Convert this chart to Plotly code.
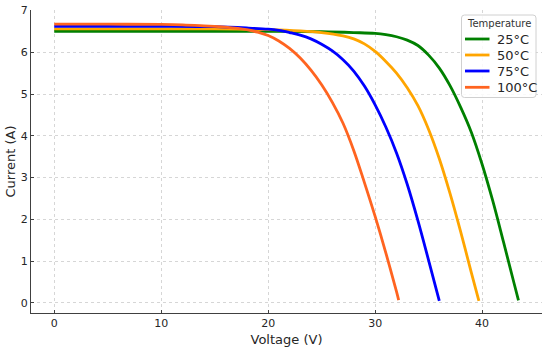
import plotly.graph_objects as go

# Temperature series
temperatures = ["25°C", "50°C", "75°C", "100°C"]
colors = ["#008000", "#FFA500", "#0000FF", "#FF6420"]

v_25 = [0, 5, 10, 15, 20, 25, 28, 30, 31, 32, 33, 34, 35, 36, 37, 38, 39, 40, 41, 42, 43, 43.4]
i_25 = [6.5, 6.5, 6.5, 6.5, 6.5, 6.49, 6.47, 6.45, 6.42, 6.37, 6.29, 6.16, 5.93, 5.62, 5.2, 4.68, 4.08, 3.32, 2.44, 1.46, 0.46, 0.06]

v_50 = [0, 5, 10, 15, 20, 23, 25, 27, 28, 29, 30, 31, 32, 33, 34, 35, 36, 37, 38, 39, 39.7]
i_50 = [6.56, 6.56, 6.56, 6.56, 6.54, 6.51, 6.47, 6.39, 6.32, 6.2, 6.02, 5.78, 5.5, 5.15, 4.72, 4.15, 3.45, 2.62, 1.7, 0.72, 0.05]

v_75 = [0, 5, 10, 15, 18, 20, 21, 22, 23, 24, 25, 26, 27, 28, 29, 30, 31, 32, 33, 34, 35, 36]
i_75 = [6.62, 6.62, 6.62, 6.61, 6.58, 6.55, 6.52, 6.47, 6.41, 6.32, 6.19, 6.03, 5.82, 5.55, 5.19, 4.74, 4.21, 3.59, 2.84, 1.97, 1.02, 0.05]

v_100 = [0, 5, 10, 12, 14, 16, 18, 19, 20, 21, 22, 23, 24, 25, 26, 27, 28, 29, 30, 31, 32, 32.2]
i_100 = [6.67, 6.67, 6.665, 6.655, 6.63, 6.6, 6.54, 6.48, 6.4, 6.27, 6.09, 5.86, 5.57, 5.22, 4.8, 4.3, 3.65, 2.88, 2.07, 1.2, 0.27, 0.07]

x_ticks = [0, 10, 20, 30, 40]
y_ticks = [0, 1, 2, 3, 4, 5, 6, 7]
legend_title = "Temperature"

voltages = [v_25, v_50, v_75, v_100]
currents = [i_25, i_50, i_75, i_100]

FONT = "DejaVu Sans"
TXT = "#262626"

W, H = 550, 347
ML, MR, MT, MB = 31, 8, 10, 34
PW, PH = W - ML - MR, H - MT - MB


def px(x):
    return (x - ML) / PW


def py(y):
    return (H - MB - y) / PH


fig = go.Figure()
for name, col, vx, iy in zip(temperatures, colors, voltages, currents):
    fig.add_trace(go.Scatter(
        x=vx, y=iy, mode="lines", name=name, showlegend=False,
        line=dict(color=col, width=2.8, shape="spline", smoothing=1.0),
    ))

axis_common = dict(
    showline=True, linecolor="#404040", linewidth=1.3, mirror=False,
    ticks="inside", ticklen=3, tickcolor="#404040", tickwidth=1,
    ticklabelposition="outside",
    showgrid=True, gridcolor="#d6d6d6", griddash="dot", gridwidth=1,
    zeroline=False, tickfont=dict(family=FONT, size=11, color=TXT),
)

fig.update_xaxes(
    range=[-2.17, 45.6], tickvals=x_ticks,
    title=dict(text="Voltage (V)", font=dict(family=FONT, size=13, color=TXT), standoff=6),
    **axis_common,
)
fig.update_yaxes(
    range=[-0.24, 7.01], tickvals=y_ticks,
    **axis_common,
)

fig.add_annotation(
    text="Current (A)", textangle=-90, showarrow=False,
    xref="paper", yref="paper", x=px(10), y=0.5,
    xanchor="center", yanchor="middle",
    font=dict(family=FONT, size=13, color=TXT),
)

# Legend box (drawn as in the reference, upper right inside the axes)
bx0, bx1, by0, by1, r = 461.5, 536.0, 15.0, 97.5, 3.0
path = (
    f"M {px(bx0 + r)},{py(by0)} L {px(bx1 - r)},{py(by0)} "
    f"Q {px(bx1)},{py(by0)} {px(bx1)},{py(by0 + r)} "
    f"L {px(bx1)},{py(by1 - r)} Q {px(bx1)},{py(by1)} {px(bx1 - r)},{py(by1)} "
    f"L {px(bx0 + r)},{py(by1)} Q {px(bx0)},{py(by1)} {px(bx0)},{py(by1 - r)} "
    f"L {px(bx0)},{py(by0 + r)} Q {px(bx0)},{py(by0)} {px(bx0 + r)},{py(by0)} Z"
)
fig.add_shape(type="path", path=path, xref="paper", yref="paper",
              fillcolor="rgba(255,255,255,0.85)", line=dict(color="#d0d0d0", width=1), layer="above")
fig.add_annotation(
    text=legend_title, showarrow=False, xref="paper", yref="paper",
    x=px((bx0 + bx1) / 2), y=py(23.5), xanchor="center", yanchor="middle",
    borderpad=0, font=dict(family=FONT, size=10, color="#333333"),
)
row_y = [39, 55, 71, 87.3]
for name, col, ry in zip(temperatures, colors, row_y):
    fig.add_shape(type="line", xref="paper", yref="paper",
                  x0=px(465), x1=px(489.5), y0=py(ry), y1=py(ry),
                  line=dict(color=col, width=2.8), layer="above")
    fig.add_annotation(
        text=name, showarrow=False, xref="paper", yref="paper",
        x=px(496), y=py(ry), xanchor="left", yanchor="middle",
        borderpad=0, font=dict(family=FONT, size=13, color=TXT),
    )

fig.update_layout(
    width=W, height=H,
    margin=dict(l=ML, r=MR, t=MT, b=MB, autoexpand=False),
    paper_bgcolor="white", plot_bgcolor="white",
    font=dict(family=FONT, color=TXT),
    showlegend=False,
)

fig.write_html(
    "out.html",
    config={"displayModeBar": False},
    post_script="document.body.style.margin='0px';",
)
